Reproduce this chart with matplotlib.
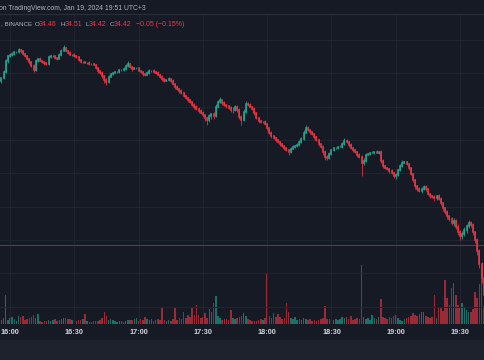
import matplotlib
matplotlib.use("Agg")
import matplotlib.pyplot as plt
import numpy as np

# 1-minute candles starting 15:56 (AVAX, Binance)
start_time = "15:56"
first_open = 34.688
closes = [
    34.693, 34.702, 34.719, 34.726, 34.728, 34.729, 34.732, 34.732, 34.735, 34.734,
    34.729, 34.726, 34.722, 34.717, 34.711, 34.705, 34.719, 34.722, 34.719, 34.717,
    34.716, 34.714, 34.725, 34.726, 34.726, 34.723, 34.722, 34.728, 34.734, 34.738,
    34.734, 34.731, 34.728, 34.728, 34.726, 34.725, 34.720, 34.717, 34.717, 34.716,
    34.716, 34.714, 34.714, 34.713, 34.708, 34.704, 34.701, 34.696, 34.690, 34.687,
    34.695, 34.699, 34.701, 34.702, 34.702, 34.705, 34.705, 34.707, 34.711, 34.714,
    34.710, 34.707, 34.708, 34.708, 34.704, 34.702, 34.699, 34.698, 34.701, 34.704,
    34.704, 34.702, 34.701, 34.698, 34.695, 34.692, 34.689, 34.690, 34.692, 34.689,
    34.684, 34.680, 34.677, 34.674, 34.671, 34.666, 34.663, 34.660, 34.657, 34.653,
    34.650, 34.647, 34.644, 34.641, 34.638, 34.633, 34.630, 34.636, 34.639, 34.636,
    34.650, 34.657, 34.660, 34.656, 34.653, 34.651, 34.648, 34.645, 34.645, 34.650,
    34.645, 34.635, 34.630, 34.642, 34.654, 34.653, 34.650, 34.647, 34.641, 34.633,
    34.629, 34.627, 34.627, 34.624, 34.618, 34.611, 34.606, 34.603, 34.600, 34.597,
    34.594, 34.591, 34.588, 34.585, 34.582, 34.587, 34.590, 34.591, 34.593, 34.597,
    34.602, 34.611, 34.618, 34.615, 34.612, 34.609, 34.605, 34.600, 34.594, 34.590,
    34.582, 34.575, 34.573, 34.579, 34.585, 34.588, 34.588, 34.590, 34.590, 34.594,
    34.599, 34.597, 34.593, 34.588, 34.585, 34.582, 34.578, 34.575, 34.566, 34.569,
    34.578, 34.579, 34.581, 34.581, 34.582, 34.581, 34.582, 34.569, 34.561, 34.558,
    34.557, 34.554, 34.551, 34.546, 34.548, 34.555, 34.561, 34.566, 34.567, 34.564,
    34.558, 34.549, 34.540, 34.531, 34.527, 34.524, 34.527, 34.530, 34.527, 34.519,
    34.516, 34.515, 34.513, 34.516, 34.512, 34.506, 34.498, 34.492, 34.486, 34.482,
    34.476, 34.479, 34.470, 34.462, 34.456, 34.459, 34.465, 34.471, 34.476, 34.473,
    34.462, 34.450, 34.434, 34.414, 34.393, 34.368, 34.353,
]
# wick lengths above / below the body, in 0.001
upper_wick = [
    2, 3, 2, 1, 2, 3, 1, 2, 3, 2, 1, 2, 2, 1, 2, 3, 2, 1, 2, 1,
    2, 1, 3, 2, 1, 2, 1, 2, 3, 4, 2, 1, 2, 1, 2, 1, 1, 2, 1, 2,
    1, 2, 1, 2, 1, 2, 1, 2, 2, 3, 3, 2, 1, 2, 1, 2, 1, 2, 3, 4,
    2, 1, 2, 1, 2, 1, 2, 1, 2, 3, 1, 2, 1, 2, 1, 2, 1, 2, 3, 1,
    2, 1, 2, 1, 2, 1, 2, 1, 2, 1, 2, 3, 1, 2, 3, 1, 2, 3, 2, 3,
    4, 3, 5, 2, 3, 1, 2, 3, 4, 2, 2, 3, 2, 4, 4, 3, 2, 1, 2, 1,
    2, 1, 2, 3, 2, 1, 2, 1, 2, 1, 2, 1, 2, 1, 2, 3, 2, 1, 2, 3,
    3, 4, 5, 3, 2, 1, 2, 1, 2, 1, 2, 3, 2, 3, 2, 1, 2, 1, 2, 3,
    4, 2, 1, 2, 1, 2, 1, 2, 3, 4, 3, 2, 1, 2, 1, 3, 2, 3, 2, 1,
    2, 1, 2, 1, 3, 2, 3, 4, 2, 1, 2, 1, 2, 1, 2, 3, 2, 3, 2, 1,
    2, 1, 3, 2, 3, 2, 1, 2, 3, 2, 3, 4, 3, 4, 3, 5, 4, 3, 4, 3,
    3, 2, 3, 2, 3, 2, 2,
]
lower_wick = [
    2, 1, 2, 3, 1, 2, 2, 1, 2, 3, 2, 1, 2, 3, 2, 3, 1, 2, 1, 2,
    3, 2, 1, 2, 2, 1, 2, 1, 2, 1, 1, 2, 1, 2, 1, 2, 2, 1, 2, 1,
    2, 1, 2, 1, 2, 3, 2, 3, 4, 5, 2, 1, 2, 1, 2, 1, 2, 1, 2, 1,
    2, 3, 1, 2, 1, 2, 3, 2, 1, 2, 2, 1, 2, 1, 2, 3, 2, 1, 2, 3,
    2, 3, 2, 3, 2, 1, 2, 3, 2, 2, 3, 2, 3, 2, 3, 4, 7, 3, 4, 5,
    2, 1, 2, 3, 2, 3, 2, 3, 5, 2, 3, 4, 7, 2, 1, 2, 1, 2, 3, 2,
    3, 2, 1, 2, 3, 2, 3, 2, 3, 2, 3, 2, 3, 2, 4, 2, 1, 2, 1, 2,
    1, 2, 1, 2, 3, 2, 3, 2, 3, 2, 4, 5, 3, 2, 1, 2, 1, 2, 1, 2,
    1, 2, 3, 2, 3, 2, 3, 2, 20, 4, 2, 1, 2, 1, 2, 1, 2, 4, 3, 2,
    2, 3, 2, 3, 4, 2, 1, 2, 1, 2, 3, 2, 3, 4, 3, 2, 3, 2, 3, 2,
    3, 2, 4, 3, 2, 3, 4, 3, 4, 3, 4, 5, 4, 5, 6, 4, 3, 4, 3, 4,
    4, 5, 6, 6, 8, 8, 6,
]
# volume, thousand AVAX
volumes = [
    4, 6, 29, 4, 6, 7, 5, 3, 8, 7, 8, 4, 5, 6, 7, 9, 6, 10, 3, 2,
    3, 3, 4, 3, 4, 5, 3, 4, 5, 6, 6, 5, 5, 4, 3, 3, 4, 4, 5, 10,
    3, 2, 2, 3, 3, 3, 4, 6, 12, 8, 4, 5, 4, 3, 2, 3, 3, 2, 3, 4,
    4, 4, 5, 6, 3, 5, 4, 7, 5, 4, 5, 3, 4, 5, 4, 17, 4, 3, 4, 3,
    5, 17, 4, 6, 5, 12, 6, 9, 7, 17, 9, 19, 9, 6, 7, 11, 6, 15, 12, 21,
    28, 8, 6, 4, 5, 5, 4, 14, 6, 5, 6, 7, 8, 11, 8, 5, 4, 3, 3, 3,
    4, 5, 4, 6, 51, 8, 6, 11, 7, 10, 7, 5, 6, 21, 12, 6, 5, 7, 4, 5,
    4, 6, 5, 4, 5, 3, 4, 3, 4, 5, 6, 18, 5, 5, 4, 4, 5, 4, 5, 7,
    6, 7, 5, 8, 4, 5, 6, 5, 59, 7, 5, 6, 4, 9, 6, 5, 7, 25, 7, 6,
    5, 7, 6, 8, 9, 6, 4, 3, 5, 6, 7, 8, 11, 9, 8, 10, 12, 12, 8, 7,
    6, 7, 29, 6, 16, 16, 13, 44, 26, 19, 36, 41, 29, 19, 17, 21, 16, 14, 12, 12,
    15, 32, 26, 40, 57, 18, 20,
]
tick_labels = ["16:00", "16:30", "17:00", "17:30", "18:00", "18:30", "19:00", "19:30"]
grid_prices = [34.35, 34.40, 34.45, 34.50, 34.55, 34.60, 34.65, 34.70, 34.75]
price_line = 34.443

header_text = "on TradingView.com, Jan 19, 2024 19:51 UTC+3"
symbol_text = ", BINANCE"
ohlc_labels = ["O", "H", "L", "C"]
ohlc_values = ["34.46", "34.51", "34.42", "34.42"]
change_text = "\u22120.05 (\u22120.15%)"

BG = "#161a25"
UP = "#22ab94"
DOWN = "#f23645"
GRID = "#212531"
TEXT = "#b2b5be"

W, H = 485, 360
plt.rcParams["font.family"] = ["Liberation Sans", "DejaVu Sans"]
fig = plt.figure(figsize=(W / 100, H / 100), dpi=100, facecolor=BG)

pane_top, pane_bottom = 15, 324
ax = fig.add_axes([0, 1 - pane_bottom / H, 1, (pane_bottom - pane_top) / H])
ax.set_facecolor(BG)
for s in ax.spines.values():
    s.set_visible(False)

closes = np.array(closes)
opens = np.concatenate([[first_open], closes[:-1]])
n = len(closes)
x = np.arange(n)
up = closes >= opens
colors = np.where(up, UP, DOWN)
body_lo = np.minimum(opens, closes)
body_hi = np.maximum(opens, closes)
highs = body_hi + np.array(upper_wick) / 1000
lows = body_lo - np.array(lower_wick) / 1000


def to_min(t):
    h, m = t.split(":")
    return int(h) * 60 + int(m)


t0 = to_min(start_time)
tick_pos = [to_min(t) - t0 for t in tick_labels]

px_per_min = 64.3 / 30
x_left = tick_pos[0] - 10 / px_per_min
x_right = x_left + W / px_per_min
ax.set_xlim(x_left, x_right)

# price scale: 0.0015 per pixel
ax.set_ylim(34.81 - 0.0015 * pane_bottom, 34.81 - 0.0015 * pane_top)

for p in grid_prices:
    ax.axhline(p, color=GRID, lw=0.7, zorder=0)
for t in tick_pos:
    ax.axvline(t, color=GRID, lw=0.7, zorder=0)

ax.axhline(price_line, color="#74303f", lw=0.8, zorder=1)

# volume on its own scale, 1 unit ~ 1 px
axv = ax.twinx()
axv.set_ylim(0, pane_bottom - pane_top)
axv.set_xlim(x_left, x_right)
axv.bar(x, volumes, width=0.7, color=colors, alpha=0.6, lw=0, zorder=1)
axv.axis("off")

ax.vlines(x, lows, highs, colors=colors, linewidth=0.55, zorder=2)
body = ax.vlines(x, body_lo, body_hi, colors=colors, linewidth=1.15, zorder=3)
body.set_capstyle("projecting")
ax.set_zorder(axv.get_zorder() + 1)
ax.patch.set_visible(False)

ax.set_xticks([])
ax.set_yticks([])

# time axis labels
for t, lab in zip(tick_pos, tick_labels):
    fx = (t - x_left) / (x_right - x_left)
    fig.text(fx, 1 - 332 / H, lab, color="#d1d4dc", fontsize=5.3,
             ha="center", va="center", fontweight="bold")

# footer band and header separator
fig.add_artist(plt.Rectangle((0, 0), 1, 20 / H, transform=fig.transFigure,
                             color="#1e222d", zorder=0))
fig.add_artist(plt.Line2D([0, 1], [1 - 14 / H] * 2, transform=fig.transFigure,
                          color="#2a2e39", lw=0.8))

# header and legend
fig.text(-0.002, 1 - 8 / H, header_text, color=TEXT, fontsize=4.85, va="center")
fig.text(0.002, 1 - 24 / H, symbol_text, color=TEXT, fontsize=4.5, va="center")
label_x = [35, 61, 86, 110]
value_x = [39, 65, 89, 114]
for lx, vx, lab, val in zip(label_x, value_x, ohlc_labels, ohlc_values):
    fig.text(lx / W, 1 - 24 / H, lab, color=TEXT, fontsize=4.5, va="center")
    fig.text(vx / W, 1 - 24 / H, val, color=DOWN, fontsize=5.0, va="center")
fig.text(136 / W, 1 - 24 / H, change_text, color=DOWN, fontsize=5.0, va="center")

fig.savefig("out.png", dpi=100, facecolor=BG)
